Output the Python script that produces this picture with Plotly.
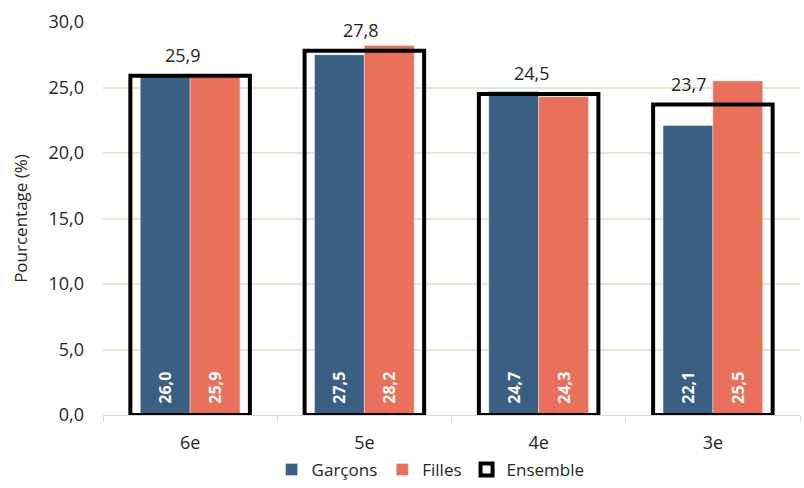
import plotly.graph_objects as go

categories = ["6e", "5e", "4e", "3e"]
garcons = [26.0, 27.5, 24.7, 22.1]
filles = [25.9, 28.2, 24.3, 25.5]
ensemble = [25.9, 27.8, 24.5, 23.7]
label_xshift = [-7, -3, -7, -24]

BLUE = "#3A5F83"
SALMON = "#E9705B"
FONT = "Open Sans"

fig = go.Figure()
inner_font = dict(family=FONT, size=16, color="white", weight="bold")
fig.add_trace(go.Bar(
    name="Garçons", x=categories, y=garcons, marker_color=BLUE,
    offset=-0.286, width=0.286,
    texttemplate="\u00a0\u00a0%{y:.1f}", textposition="inside", insidetextanchor="start",
    textangle=-90, textfont=inner_font, constraintext="none",
))
fig.add_trace(go.Bar(
    name="Filles", x=categories, y=filles, marker_color=SALMON,
    offset=0.0, width=0.286,
    texttemplate="\u00a0\u00a0%{y:.1f}", textposition="inside", insidetextanchor="start",
    textangle=-90, textfont=inner_font, constraintext="none",
))
fig.add_trace(go.Bar(
    name="Ensemble", x=categories, y=ensemble,
    marker=dict(color="rgba(0,0,0,0)", line=dict(color="black", width=4)),
    offset=-0.343, width=0.686,
))

for c, v, dx in zip(categories, ensemble, label_xshift):
    fig.add_annotation(x=c, y=v, text=f"{v:.1f}".replace(".", ","), showarrow=False,
                       yanchor="bottom", yshift=7, xshift=dx,
                       font=dict(family=FONT, size=18, color="#262626"))

fig.update_layout(
    width=804, height=488,
    margin=dict(l=103, r=4, t=22, b=73, autoexpand=False),
    barmode="overlay",
    separators=", ",
    plot_bgcolor="white", paper_bgcolor="white",
    font=dict(family=FONT, size=18, color="#262626"),
    showlegend=True,
    legend=dict(orientation="h", x=0.47, xanchor="center",
                yref="container", y=0.037, yanchor="middle",
                font=dict(family=FONT, size=17, color="#262626"),
                tracegroupgap=0),
    xaxis=dict(
        showgrid=False, showline=True, linecolor="#D9D9D9", linewidth=1,
        ticks="outside", tickson="boundaries", ticklen=6, tickcolor="#D9D9D9",
        ticklabelstandoff=11, tickfont=dict(size=18),
    ),
    yaxis=dict(
        range=[0, 30], dtick=5, tickformat=".1f",
        showgrid=True, gridcolor="#DDEBD3", gridwidth=1.5,
        zeroline=False, showline=False,
        ticklabelstandoff=18, tickfont=dict(size=18),
        title=dict(text="Pourcentage (%)", standoff=16,
                   font=dict(family=FONT, size=17, color="#262626")),
    ),
)

fig.write_html("out.html")
